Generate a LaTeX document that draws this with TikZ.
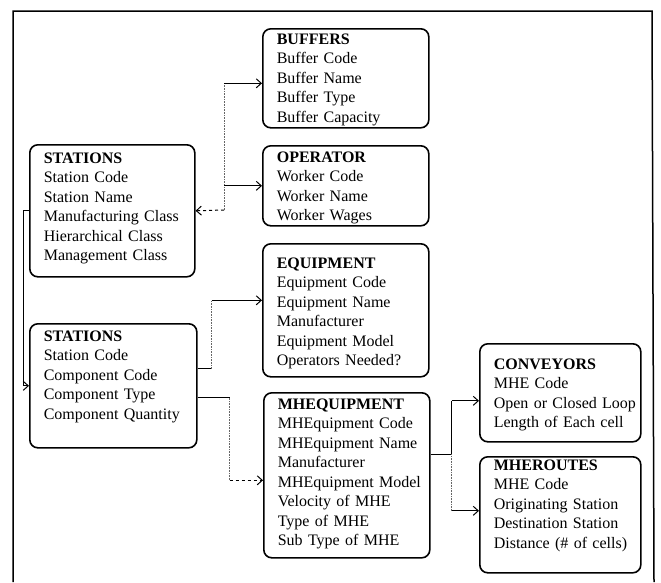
\documentclass[tikz,border=0pt]{standalone}
\usepackage{fontspec}
\setmainfont{Liberation Serif}
\usetikzlibrary{arrows.meta}

\newcommand{\fieldlist}[1]{\begin{tabular}[t]{@{}l@{}}#1\end{tabular}}

\tikzstyle{entity}=[draw, line width=1.6pt, rounded corners=8pt, anchor=north west, align=left, inner xsep=14pt, inner ysep=2pt, font=\fontsize{16}{19.5}\selectfont]
\tikzstyle{arrow}=[line width=1pt, -{Straight Barb[length=5pt, width=9pt]}]
\tikzstyle{link}=[line width=1pt]
\tikzstyle{faint}=[line width=0.6pt, densely dotted, black!60]

\begin{document}
\begin{tikzpicture}[x=1pt, y=-1pt]
      \useasboundingbox (0,0) rectangle (661,582);
      \draw[line width=1.5pt] (13,582) |- (652,11) -- (654,582);

      \node[entity, text width=138pt, text height=13.5pt, text depth=81.5pt] (buffers) at (262,28)
        {\fieldlist{\textbf{BUFFERS}\\ Buffer Code\\ Buffer Name\\ Buffer Type\\ Buffer Capacity}};
      \node[entity, text width=138pt, text height=14.6pt, text depth=61.4pt] (operator) at (262,145)
        {\fieldlist{\textbf{OPERATOR}\\ Worker Code\\ Worker Name\\ Worker Wages}};
      \node[entity, text width=137pt, text height=16.6pt, text depth=111.4pt] (stations) at (29,144)
        {\fieldlist{\textbf{STATIONS}\\ Station Code\\ Station Name\\ Manufacturing Class\\ Hierarchical Class\\ Management Class}};
      \node[entity, text width=138pt, text height=22.6pt, text depth=106.4pt] (equipment) at (262,243)
        {\fieldlist{\textbf{EQUIPMENT}\\ Equipment Code\\ Equipment Name\\ Manufacturer\\ Equipment Model\\ Operators Needed?}};
      \node[entity, text width=139pt, text height=15.6pt, text depth=104.4pt] (parts) at (29,323)
        {\fieldlist{\textbf{STATIONS}\\ Station Code\\ Component Code\\ Component Type\\ Component Quantity}};
      \node[entity, text width=138pt, text height=14.6pt, text depth=146.4pt] (mhe) at (263,392)
        {\fieldlist{\textbf{MHEQUIPMENT}\\ MHEquipment Code\\ MHEquipment Name\\ Manufacturer\\ MHEquipment Model\\ Velocity of MHE\\ Type of MHE\\ Sub Type of MHE}};
      \node[entity, text width=133pt, text height=23.6pt, text depth=70.4pt] (conveyors) at (479,343)
        {\fieldlist{\textbf{CONVEYORS}\\ MHE Code\\ Open or Closed Loop\\ Length of Each cell}};
      \node[entity, text width=133pt, text height=11.6pt, text depth=100.4pt] (routes) at (479,456)
        {\fieldlist{\textbf{MHEROUTES}\\ MHE Code\\ Originating Station\\ Destination Station\\ Distance (\# of cells)}};

      \coordinate (upbus) at (224,210);
      \coordinate (bufin) at ([yshift=-5pt]buffers.west);
      \draw[faint] (upbus) -- (upbus |- bufin);
      \draw[arrow] (upbus |- bufin) -- (bufin);
      \draw[arrow] (upbus |- operator.west) -- (operator.west);
      \draw[arrow, dashed] (upbus) -- (stations.east);

      \draw[arrow] (stations.west) -- ++(-6,0) |- (parts.west);

      \coordinate (partsa) at ([yshift=17pt]parts.east);
      \coordinate (partsb) at ([yshift=-12pt]parts.east);
      \coordinate (eqin) at ([yshift=10pt]equipment.west);
      \coordinate (mhein) at ([yshift=-5pt]mhe.west);
      \draw[link] (partsa) -- ++(14,0) coordinate (eqbus);
      \draw[faint] (eqbus) -- (eqbus |- eqin);
      \draw[arrow] (eqbus |- eqin) -- (eqin);
      \draw[link] (partsb) -- ++(32,0) coordinate (mhebus);
      \draw[faint] (mhebus) -- (mhebus |- mhein);
      \draw[arrow, dashed] (mhebus |- mhein) -- (mhein);

      \coordinate (mheout) at ([yshift=21pt]mhe.east);
      \coordinate (convin) at ([yshift=-8pt]conveyors.west);
      \coordinate (routesin) at ([yshift=4pt]routes.west);
      \draw[link] (mheout) -- ++(21,0) coordinate (rbus);
      \draw[link] (rbus) -- (rbus |- convin);
      \draw[arrow] (rbus |- convin) -- (convin);
      \draw[faint] (rbus) -- (rbus |- routesin);
      \draw[arrow] (rbus |- routesin) -- (routesin);
    \end{tikzpicture}
\end{document}
